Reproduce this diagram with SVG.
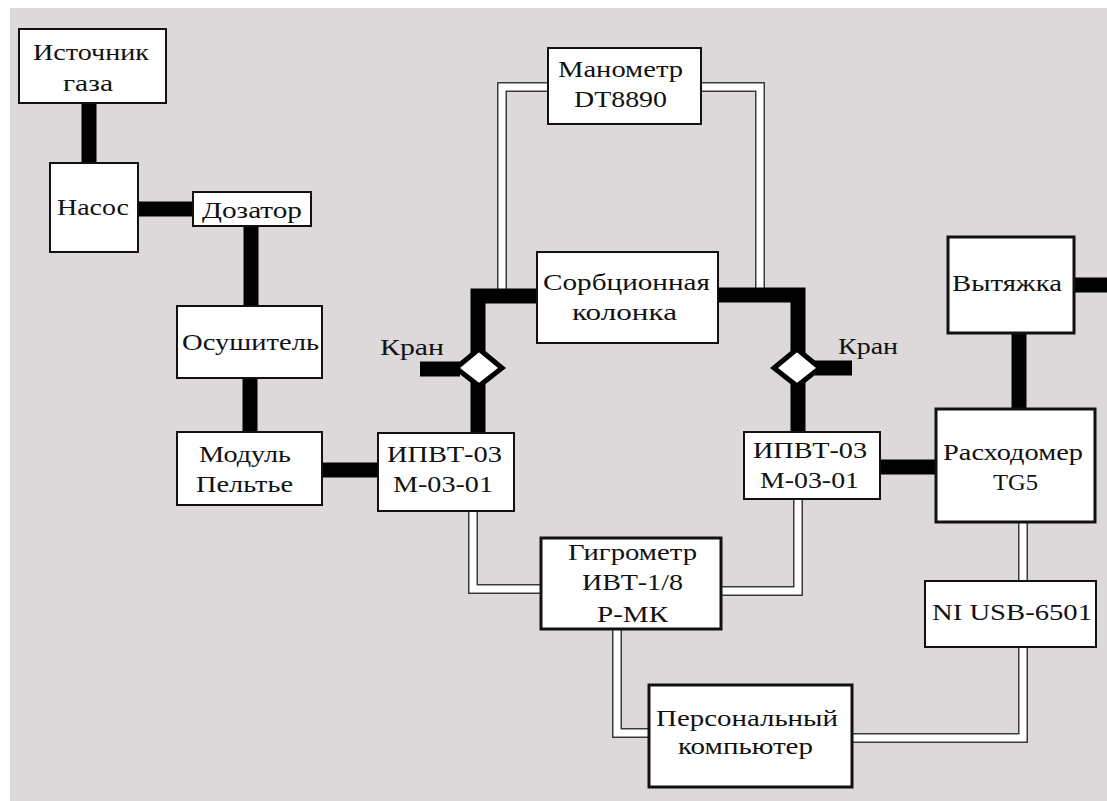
<svg xmlns="http://www.w3.org/2000/svg" width="1107" height="801" viewBox="0 0 1107 801">
<style>
.bg{fill:#ddd8d9}
.box{fill:#fff;stroke:#111;stroke-width:2}
.box3{fill:#fff;stroke:#111;stroke-width:3}
.thick{fill:none;stroke:#000;stroke-width:15;stroke-linecap:butt;stroke-linejoin:miter}
.dbl-o{fill:none;stroke:#3a3a3a;stroke-width:10;stroke-linejoin:miter}
.dbl-i{fill:none;stroke:#fff;stroke-width:7;stroke-linejoin:miter}
.valve{fill:#fff;stroke:#000;stroke-width:5;stroke-linejoin:miter}
</style>
<rect width="1107" height="801" fill="#fff"/>
<rect class="bg" x="10" y="8" width="1097" height="793"/>
<g id="connectors">
  <g id="signal-lines">
    <path class="dbl-o" d="M548,87 H502 V289"/>
    <path class="dbl-i" d="M548,87 H502 V289"/>
    <path class="dbl-o" d="M701,87 H760 V289"/>
    <path class="dbl-i" d="M701,87 H760 V289"/>
    <path class="dbl-o" d="M473,511 V589 H541"/>
    <path class="dbl-i" d="M473,511 V589 H541"/>
    <path class="dbl-o" d="M721,591 H798 V499"/>
    <path class="dbl-i" d="M721,591 H798 V499"/>
    <path class="dbl-o" d="M617,629 V733 H649"/>
    <path class="dbl-i" d="M617,629 V733 H649"/>
    <path class="dbl-o" d="M852,738 H1023 V647"/>
    <path class="dbl-i" d="M852,738 H1023 V647"/>
    <path class="dbl-o" d="M1023,522 V581"/>
    <path class="dbl-i" d="M1023,522 V581"/>
  </g>
  <g id="gas-lines">
    <path class="thick" d="M89,103 V163"/>
    <path class="thick" d="M138,209 H193"/>
    <path class="thick" d="M251,226 V306"/>
    <path class="thick" d="M250,378 V432"/>
    <path class="thick" d="M322,470 H378"/>
    <path class="thick" d="M478,433 V296 H537"/>
    <path class="thick" d="M718,295 H798 V432"/>
    <path class="thick" d="M420,369 H460"/>
    <path class="thick" d="M815,368 H852"/>
    <path class="thick" d="M880,467 H936"/>
    <path class="thick" d="M1019,333 V409"/>
    <path class="thick" d="M1074,285 H1107"/>
  </g>
</g>
<g font-family="Liberation Serif, Times New Roman, serif" font-size="23" fill="#111" text-anchor="middle">
<g id="valve-left">
  <polygon class="valve" points="479,349 502,368 479,386 456,368"/>
  <text x="412" y="355" textLength="64" lengthAdjust="spacingAndGlyphs">Кран</text>
</g>
<g id="valve-right">
  <polygon class="valve" points="797,349 820,368 797,386 774,368"/>
  <text x="868" y="354" textLength="60" lengthAdjust="spacingAndGlyphs">Кран</text>
</g>
<g id="source">
  <rect class="box" x="19" y="29" width="147" height="74"/>
  <text x="91" y="60" textLength="116" lengthAdjust="spacingAndGlyphs">Источник</text>
  <text x="88" y="91" textLength="50" lengthAdjust="spacingAndGlyphs">газа</text>
</g>
<g id="pump">
  <rect class="box" x="50" y="163" width="88" height="89"/>
  <text x="93" y="215" textLength="72" lengthAdjust="spacingAndGlyphs">Насос</text>
</g>
<g id="doser">
  <rect class="box" x="193" y="192" width="118" height="34"/>
  <text x="252" y="218" textLength="100" lengthAdjust="spacingAndGlyphs">Дозатор</text>
</g>
<g id="dryer">
  <rect class="box" x="177" y="306" width="145" height="72"/>
  <text x="250.5" y="350" textLength="137" lengthAdjust="spacingAndGlyphs">Осушитель</text>
</g>
<g id="peltier">
  <rect class="box" x="177" y="432" width="145" height="73"/>
  <text x="245" y="462" textLength="92" lengthAdjust="spacingAndGlyphs">Модуль</text>
  <text x="244.5" y="492" textLength="97" lengthAdjust="spacingAndGlyphs">Пельтье</text>
</g>
<g id="ipvt-left">
  <rect class="box" x="378" y="433" width="136" height="78"/>
  <text x="444.5" y="462" textLength="115" lengthAdjust="spacingAndGlyphs">ИПВТ-03</text>
  <text x="443" y="492" textLength="100" lengthAdjust="spacingAndGlyphs">М-03-01</text>
</g>
<g id="manometer">
  <rect class="box" x="548" y="48" width="153" height="76"/>
  <text x="620.5" y="77" textLength="125" lengthAdjust="spacingAndGlyphs">Манометр</text>
  <text x="620.5" y="107" textLength="93" lengthAdjust="spacingAndGlyphs">DT8890</text>
</g>
<g id="column">
  <rect class="box" x="537" y="252" width="181" height="91"/>
  <text x="626.5" y="290" textLength="167" lengthAdjust="spacingAndGlyphs">Сорбционная</text>
  <text x="624.5" y="320" textLength="105" lengthAdjust="spacingAndGlyphs">колонка</text>
</g>
<g id="ipvt-right">
  <rect class="box" x="744" y="432" width="136" height="67"/>
  <text x="810" y="458" textLength="114" lengthAdjust="spacingAndGlyphs">ИПВТ-03</text>
  <text x="809.5" y="488" textLength="99" lengthAdjust="spacingAndGlyphs">М-03-01</text>
</g>
<g id="hood">
  <rect class="box3" x="948" y="237" width="126" height="96"/>
  <text x="1007" y="291" textLength="110" lengthAdjust="spacingAndGlyphs">Вытяжка</text>
</g>
<g id="flowmeter">
  <rect class="box3" x="936" y="409" width="159" height="113"/>
  <text x="1013" y="460" textLength="140" lengthAdjust="spacingAndGlyphs">Расходомер</text>
  <text x="1015.5" y="490" textLength="45" lengthAdjust="spacingAndGlyphs">TG5</text>
</g>
<g id="hygrometer">
  <rect class="box3" x="541" y="538" width="180" height="91"/>
  <text x="632.5" y="560" textLength="129" lengthAdjust="spacingAndGlyphs">Гигрометр</text>
  <text x="632.5" y="590" textLength="101" lengthAdjust="spacingAndGlyphs">ИВТ-1/8</text>
  <text x="632.5" y="622" textLength="71" lengthAdjust="spacingAndGlyphs">Р-МК</text>
</g>
<g id="ni-usb">
  <rect class="box" x="925" y="581" width="171" height="66"/>
  <text x="1012" y="620" textLength="160" lengthAdjust="spacingAndGlyphs">NI USB-6501</text>
</g>
<g id="pc">
  <rect class="box3" x="649" y="685" width="203" height="102"/>
  <text x="747" y="726" textLength="182" lengthAdjust="spacingAndGlyphs">Персональный</text>
  <text x="745.5" y="754" textLength="135" lengthAdjust="spacingAndGlyphs">компьютер</text>
</g>
</g>
</svg>
